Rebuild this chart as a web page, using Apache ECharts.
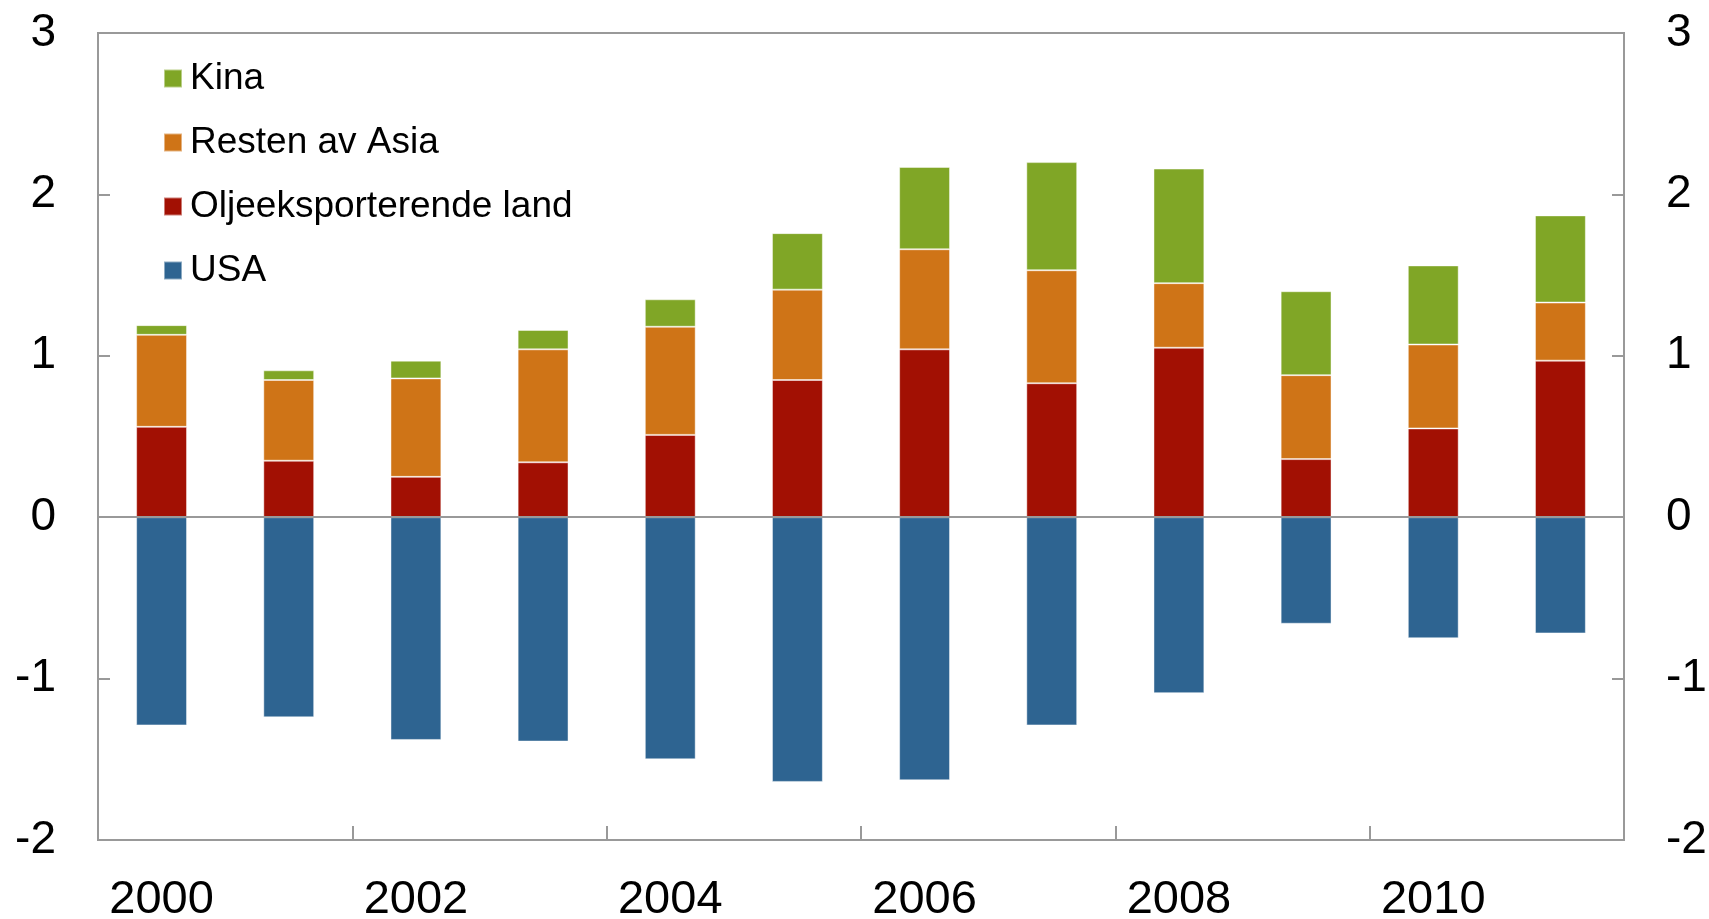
<!DOCTYPE html>
<html>
<head>
<meta charset="utf-8">
<script src="https://cdn.jsdelivr.net/npm/echarts@6/dist/echarts.min.js"></script>
<style>
html,body{margin:0;padding:0;background:#fff;}
#c{width:1709px;height:919px;}
</style>
</head>
<body>
<div id="c"></div>
<script>
const years = ['2000','2001','2002','2003','2004','2005','2006','2007','2008','2009','2010','2011'];
const usa   = [-1.29,-1.24,-1.38,-1.39,-1.50,-1.64,-1.63,-1.29,-1.09,-0.66,-0.75,-0.72];
const olje  = [0.56,0.35,0.25,0.34,0.51,0.85,1.04,0.83,1.05,0.36,0.55,0.97];
const asia  = [0.57,0.50,0.61,0.70,0.67,0.56,0.62,0.70,0.40,0.52,0.52,0.36];
const kina  = [0.06,0.06,0.11,0.12,0.17,0.35,0.51,0.67,0.71,0.52,0.49,0.54];
const names = ['Kina','Resten av Asia','Oljeeksporterende land','USA'];
const colors = {Kina:'#80A626', 'Resten av Asia':'#CF7417', 'Oljeeksporterende land':'#A21003', USA:'#2E6491'};

const chart = echarts.init(document.getElementById('c'));
const font = '"Liberation Sans", Arial, sans-serif';
const axisGray = '#999999';
function yAx(pos){
  return {
    type:'value', position:pos, min:-2, max:3, interval:1,
    axisLine:{show:true, lineStyle:{color:axisGray, width:2}},
    axisTick:{show:true, inside:true, length:12, lineStyle:{color:axisGray, width:2}},
    axisLabel:{color:'#000', fontSize:46, fontFamily:font, margin:42},
    splitLine:{show:false}
  };
}
function bar(name, data){
  return {
    name:name, type:'bar', stack:'total', data:data, barWidth:'40%',
    itemStyle:{color:colors[name], borderColor:'rgba(255,255,255,0.45)', borderWidth:1},
    emphasis:{disabled:true}
  };
}
const usaSeries = bar('USA', usa);
usaSeries.markLine = {
  silent:true, symbol:'none', label:{show:false},
  lineStyle:{color:axisGray, width:2, type:'solid'},
  data:[{yAxis:0}]
};
chart.setOption({
  animation:false,
  grid:{left:98, right:85, top:33, bottom:79, show:true, borderColor:axisGray, borderWidth:2,
        containLabel:false, outerBoundsMode:'none'},
  legend:{
    data:names, orient:'vertical', left:158, top:55, itemWidth:18, itemHeight:18, itemGap:27,
    icon:'rect', textStyle:{fontSize:37, fontFamily:font, color:'#000', padding:[0,0,0,3]}
  },
  xAxis:{
    type:'category', data:years, position:'bottom',
    axisLine:{onZero:false, lineStyle:{color:axisGray, width:2}},
    axisTick:{show:true, inside:true, length:14, interval:1, lineStyle:{color:axisGray, width:2}},
    axisLabel:{interval:1, color:'#000', fontSize:47, fontFamily:font, margin:37}
  },
  yAxis:[yAx('left'), yAx('right')],
  series:[usaSeries, bar('Oljeeksporterende land', olje), bar('Resten av Asia', asia), bar('Kina', kina)]
});
</script>
</body>
</html>
